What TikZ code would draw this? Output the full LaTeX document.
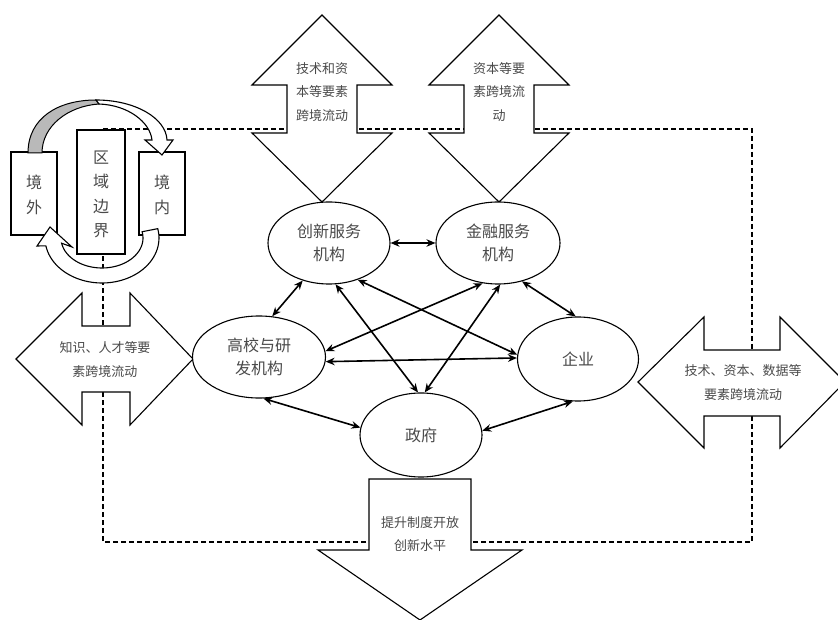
\documentclass[tikz,border=0pt]{standalone}
\usepackage{fontspec}
\newfontfamily\cjk{Noto Sans CJK SC}
\usetikzlibrary{shapes.geometric,arrows.meta}
\definecolor{txtgray}{HTML}{4A4A4A}
\begin{document}
\begin{tikzpicture}[x=1pt,y=-1pt,
  outl/.style={draw=black,line width=1.1pt,fill=white,line join=miter},
  lbl/.style={text=txtgray,font=\cjk\fontsize{13}{23.5}\selectfont,align=center,inner sep=0pt},
  boxlbl/.style={text=txtgray,font=\cjk\fontsize{16}{24.5}\selectfont,align=center,inner sep=0pt},
  ell/.style={ellipse,draw=black,line width=1.1pt,fill=white,inner sep=0pt,text=txtgray,
              font=\cjk\fontsize{16}{23}\selectfont,align=center},
  link/.style={line width=1.6pt,{Stealth[length=9pt,width=7.5pt]}-{Stealth[length=9pt,width=7.5pt]}},
  dashline/.style={line width=1.3pt,dash pattern=on 5pt off 3pt}]
\useasboundingbox (0,0) rectangle (838,620);
\clip (0,0) rectangle (838,620);
\fill[white] (0,0) rectangle (838,620);

% dashed frame
\coordinate (d1) at (103,129);
\coordinate (d2) at (752,129);
\coordinate (d3) at (752,542);
\coordinate (d4) at (103,542);
\draw[dashline] (d1) -- (d2) -- (d3) -- (d4) -- cycle;

% boxes
\draw[outl] (11,152) rectangle (57,235);
\node[boxlbl] (jw) at (34,195) {境\\外};
\draw[outl] (77,130) rectangle (125,254);
\node[boxlbl] (qy) at (101,194.5) {区\\域\\边\\界};
\draw[outl] (139,152) rectangle (185,235);
\node[boxlbl] (jn) at (162,195) {境\\内};

% upper curved arrow
\filldraw[fill=gray!55,draw=black,line width=1pt]
  (28,153) .. controls (28,118) and (58,100) .. (96,100) -- (99,104)
  .. controls (68,106) and (42,126) .. (42,153) -- cycle;
\filldraw[outl]
  (96,100) .. controls (135,100) and (166,118) .. (167,140) -- (173,140) -- (162,155)
  -- (145,140) -- (152,140) .. controls (150,122) and (128,105) .. (99,104) -- cycle;

% lower curved arrow
\filldraw[outl]
  plot[domain=-12:170,samples=50] ({102+57*cos(\x)},{238+45*sin(\x)})
  -- (37,246) -- (50,227) -- (72,247)
  -- plot[domain=170:-12,samples=50] ({102+41*cos(\x)},{238+30*sin(\x)}) -- cycle;

% top double arrows
\foreach \c in {322,499}{
  \filldraw[outl] (\c,15) -- (\c+70,85) -- (\c+35,85) -- (\c+35,133) -- (\c+70,133)
    -- (\c,202) -- (\c-70,133) -- (\c-35,133) -- (\c-35,85) -- (\c-70,85) -- cycle;
}
\node[lbl] (ta1) at (322,92) {技术和资\\本等要素\\跨境流动};
\node[lbl] (ta2) at (499,92) {资本等要\\素跨境流\\动};

% left double arrow
\filldraw[outl] (16,359) -- (82,293) -- (82,326) -- (130,326) -- (130,293) -- (193,359)
  -- (130,425) -- (130,392) -- (82,392) -- (82,425) -- cycle;
\node[lbl] (la) at (105,359.5) {知识、人才等要\\素跨境流动};

% right double arrow
\filldraw[outl] (638,382) -- (704,317) -- (704,350) -- (780,350) -- (780,317) -- (845,382)
  -- (780,448) -- (780,416) -- (704,416) -- (704,448) -- cycle;
\node[lbl] (ra) at (743,382.5) {技术、资本、数据等\\要素跨境流动};

% down arrow
\filldraw[outl] (369,479) -- (471,479) -- (471,550) -- (522,550) -- (420,620)
  -- (318,550) -- (369,550) -- cycle;
\node[lbl] (da) at (420,534) {提升制度开放\\创新水平};

% ellipses
\node[ell,minimum width=122pt,minimum height=82pt] (cx) at (329,243) {创新服务\\机构};
\node[ell,minimum width=124pt,minimum height=82pt] (jr) at (498,243) {金融服务\\机构};
\node[ell,minimum width=133pt,minimum height=82pt] (gx) at (259,357) {高校与研\\发机构};
\node[ell,minimum width=121pt,minimum height=84pt] (qye) at (578,359) {企业};
\node[ell,minimum width=122pt,minimum height=84pt] (zf) at (421,435) {政府};

% links
\draw[link] (cx.0) -- (jr.180);
\draw[link] (cx.-125) -- (gx.72);
\draw[link] (cx.-52) -- (qye.176);
\draw[link] (cx.-81) -- (zf.94);
\draw[link] (jr.-111) -- (gx.5);
\draw[link] (jr.-87) -- (zf.85);
\draw[link] (jr.-58) -- (qye.93);
\draw[link] (gx.-4) -- (qye.179);
\draw[link] (gx.-84) -- (zf.173);
\draw[link] (qye.-97) -- (zf.4);
\end{tikzpicture}
\end{document}
